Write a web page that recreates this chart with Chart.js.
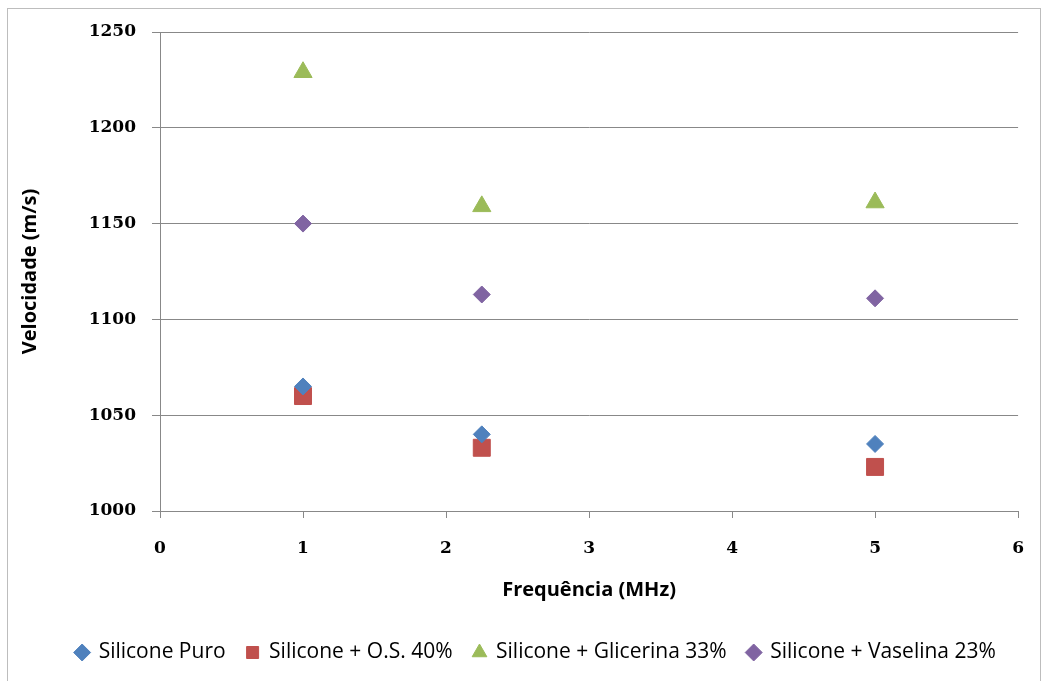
<!DOCTYPE html>
<html>
<head>
<meta charset="utf-8">
<script src="https://cdn.jsdelivr.net/npm/chart.js@4"></script>
<style>
  html, body { margin: 0; padding: 0; background: #fff; }
  #wrap { width: 1044px; height: 681px; }
</style>
</head>
<body>
<div id="wrap"><canvas id="chart" width="1044" height="681"></canvas></div>
<script>
// ─── Data ───────────────────────────────
const freqs = [1, 2.25, 5];
const siliconePuro = [1065, 1040, 1035];
const siliconeOS = [1060, 1033, 1023];
const siliconeGlicerina = [1229, 1159, 1161];
const siliconeVaselina = [1150, 1113, 1111];
const yTicks = [1000, 1050, 1100, 1150, 1200, 1250];
const xTicks = [0, 1, 2, 3, 4, 5, 6];

const GRID = "#888888";
const FONT = "Open Sans";
const TICK_FONT = { family: "DejaVu Serif", size: 17, weight: "bold" };

function pts(vals) {
  return freqs.map((x, i) => ({ x, y: vals[i] }));
}

// outer frame like the spreadsheet chart box
const frame = {
  id: "frame",
  beforeDraw(chart) {
    const c = chart.ctx;
    c.save();
    c.strokeStyle = "#bdbdbd";
    c.lineWidth = 1;
    c.strokeRect(7.5, 8.5, 1033, 700);
    c.restore();
  },
};

// legend in the original sits a little right of centre
const legendShift = {
  id: "legendShift",
  afterLayout(chart) {
    chart.legend.left += 20;
    chart.legend.right += 20;
  },
};

new Chart(document.getElementById("chart"), {
  type: "scatter",
  data: {
    datasets: [
      { label: "Silicone Puro", data: pts(siliconePuro), pointStyle: "rectRot", radius: 8.5,
        backgroundColor: "#4F81BD", borderColor: "#4F81BD" },
      { label: "Silicone + O.S. 40%", data: pts(siliconeOS), pointStyle: "rect", radius: 12,
        backgroundColor: "#C0504D", borderColor: "#C0504D" },
      { label: "Silicone + Glicerina 33%", data: pts(siliconeGlicerina), pointStyle: "triangle", radius: 10.5,
        backgroundColor: "#9BBB59", borderColor: "#9BBB59" },
      { label: "Silicone + Vaselina 23%", data: pts(siliconeVaselina), pointStyle: "rectRot", radius: 8.5,
        backgroundColor: "#8064A2", borderColor: "#8064A2" },
    ],
  },
  options: {
    responsive: false,
    animation: false,
    layout: { padding: { top: 32, right: 20, left: 8, bottom: 8 } },
    plugins: {
      tooltip: { enabled: false },
      legend: {
        position: "bottom",
        labels: {
          usePointStyle: true,
          boxWidth: 12,
          boxHeight: 12,
          padding: 21,
          color: "#000",
          font: { family: FONT, size: 21 },
        },
      },
    },
    scales: {
      x: {
        type: "linear",
        min: 0,
        max: 6,
        afterBuildTicks: s => { s.ticks = xTicks.map(v => ({ value: v })); },
        afterFit: s => { s.height = 110; },
        grid: { drawOnChartArea: false, drawTicks: true, tickLength: 7, color: GRID },
        border: { color: GRID },
        ticks: { padding: 20, color: "#000", font: TICK_FONT, callback: v => String(v) },
        title: {
          display: true,
          text: "Frequência (MHz)",
          color: "#000",
          padding: { top: 0, bottom: 19 },
          font: { family: FONT, size: 20, weight: "bold" },
        },
      },
      y: {
        min: 1000,
        max: 1250,
        afterBuildTicks: s => { s.ticks = yTicks.map(v => ({ value: v })); },
        afterFit: s => { s.width = 152; },
        grid: { color: GRID, tickLength: 8 },
        border: { color: GRID },
        ticks: { padding: 16, color: "#000", font: TICK_FONT, callback: v => String(v) },
        title: {
          display: true,
          text: "Velocidade (m/s)",
          color: "#000",
          padding: { top: 10, bottom: 0 },
          font: { family: FONT, size: 20, weight: "bold" },
        },
      },
    },
  },
  plugins: [frame, legendShift],
});
</script>
</body>
</html>
